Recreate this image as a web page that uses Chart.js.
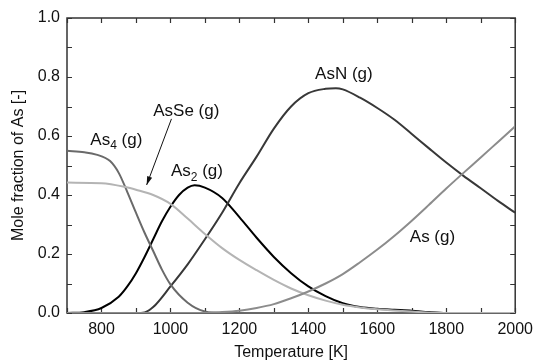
<!DOCTYPE html>
<html>
<head>
<meta charset="utf-8">
<script src="https://cdn.jsdelivr.net/npm/chart.js@4"></script>
<style>
  html, body { margin: 0; padding: 0; background: #fff; }
  #wrap { width: 540px; height: 361px; }
</style>
</head>
<body>
<div id="wrap"><canvas id="chart" width="540" height="361"></canvas></div>
<script>
// values
const tAs4 = [700, 750, 785, 825, 850, 875, 900, 925, 950, 975, 1000, 1050, 1100, 1150, 2000];
const molAs4 = [0.55, 0.545, 0.537, 0.515, 0.475, 0.41, 0.34, 0.272, 0.21, 0.148, 0.097, 0.035, 0.005, 0, 0];

const tAsSe = [700, 800, 870, 900, 950, 1000, 1050, 1100, 1150, 1200, 1250, 1300, 1350, 1400, 1450, 1500, 1550, 1600, 1700, 1800, 2000];
const molAsSe = [0.442, 0.44, 0.427, 0.418, 0.40, 0.37, 0.32, 0.268, 0.22, 0.18, 0.145, 0.112, 0.083, 0.06, 0.042, 0.028, 0.019, 0.013, 0.005, 0, 0];

const tAs2 = [700, 750, 800, 850, 875, 900, 925, 950, 975, 1000, 1025, 1050, 1070, 1100, 1150, 1200, 1250, 1300, 1350, 1400, 1450, 1500, 1550, 1600, 1650, 1700, 1750, 1800, 2000];
const molAs2 = [0, 0.003, 0.017, 0.055, 0.09, 0.135, 0.19, 0.25, 0.31, 0.36, 0.40, 0.425, 0.433, 0.425, 0.39, 0.325, 0.255, 0.19, 0.135, 0.09, 0.057, 0.033, 0.02, 0.014, 0.011, 0.008, 0.003, 0, 0];

const tAsN = [700, 900, 925, 950, 1000, 1050, 1100, 1150, 1200, 1250, 1300, 1350, 1400, 1450, 1480, 1500, 1550, 1600, 1650, 1700, 1750, 1800, 1850, 1900, 1950, 2000];
const molAsN = [0, 0, 0.002, 0.02, 0.09, 0.165, 0.25, 0.34, 0.44, 0.53, 0.625, 0.70, 0.745, 0.76, 0.762, 0.758, 0.73, 0.695, 0.655, 0.607, 0.558, 0.51, 0.465, 0.423, 0.38, 0.34];

const tAs = [700, 1100, 1150, 1200, 1250, 1300, 1350, 1400, 1450, 1500, 1550, 1600, 1650, 1700, 1750, 1800, 1850, 1900, 1950, 2000];
const molAs = [0, 0, 0.003, 0.008, 0.017, 0.03, 0.05, 0.073, 0.1, 0.132, 0.172, 0.215, 0.262, 0.313, 0.367, 0.422, 0.475, 0.527, 0.58, 0.633];

const xTicks = [800, 1000, 1200, 1400, 1600, 1800, 2000];
const yTicks = [0, 0.2, 0.4, 0.6, 0.8, 1.0];
const xTickMarks = [700, 800, 900, 1000, 1100, 1200, 1300, 1400, 1500, 1600, 1700, 1800, 1900, 2000];
const yTickMarks = [0, 0.1, 0.2, 0.3, 0.4, 0.5, 0.6, 0.7, 0.8, 0.9, 1.0];

// curve labels, placed in data units
const labels = [
  { base: "AsN", sub: "", rest: " (g)", x: 1503, y: 0.81 },
  { base: "As", sub: "4", rest: " (g)", x: 843, y: 0.586 },
  { base: "AsSe", sub: "", rest: " (g)", x: 1046, y: 0.685 },
  { base: "As", sub: "2", rest: " (g)", x: 1077, y: 0.48 },
  { base: "As", sub: "", rest: " (g)", x: 1760, y: 0.258 }
];
const arrowFrom = { x: 1003, y: 0.658 };
const arrowTo = { x: 931, y: 0.434 };

const FONT = "'Liberation Sans', Arial, sans-serif";
const pts = (ts, vs) => ts.map((t, i) => ({ x: t, y: vs[i] }));

const line = (label, data, color) => ({
  label,
  data,
  borderColor: color,
  borderWidth: 2,
  pointRadius: 0,
  fill: false,
  cubicInterpolationMode: "monotone"
});

const framePlugin = {
  id: "frame",
  beforeDatasetsDraw(chart) {
    const { ctx, chartArea: a, scales } = chart;
    const len = 5;
    ctx.save();
    ctx.strokeStyle = "#333";
    ctx.lineWidth = 1.5;
    ctx.strokeRect(a.left, a.top, a.right - a.left, a.bottom - a.top);
    ctx.lineWidth = 1.2;
    ctx.beginPath();
    xTickMarks.forEach(v => {
      const px = Math.round(scales.x.getPixelForValue(v)) + 0.5;
      ctx.moveTo(px, a.bottom); ctx.lineTo(px, a.bottom - len);
      ctx.moveTo(px, a.top); ctx.lineTo(px, a.top + len);
    });
    yTickMarks.forEach(v => {
      const py = Math.round(scales.y.getPixelForValue(v)) + 0.5;
      ctx.moveTo(a.left, py); ctx.lineTo(a.left + len, py);
      ctx.moveTo(a.right, py); ctx.lineTo(a.right - len, py);
    });
    ctx.stroke();
    ctx.restore();
  },
  afterDatasetsDraw(chart) {
    const { ctx, scales } = chart;
    ctx.save();
    ctx.fillStyle = "#111";
    ctx.textBaseline = "middle";
    labels.forEach(l => {
      const big = "17px " + FONT, small = "12px " + FONT;
      ctx.font = big;
      const w1 = ctx.measureText(l.base).width;
      const w3 = ctx.measureText(l.rest).width;
      ctx.font = small;
      const w2 = l.sub ? ctx.measureText(l.sub).width : 0;
      const cx = scales.x.getPixelForValue(l.x);
      const cy = scales.y.getPixelForValue(l.y);
      let x = cx - (w1 + w2 + w3) / 2;
      ctx.textAlign = "left";
      ctx.font = big;
      ctx.fillText(l.base, x, cy);
      x += w1;
      if (l.sub) {
        ctx.font = small;
        ctx.fillText(l.sub, x, cy + 6);
        x += w2;
      }
      ctx.font = big;
      ctx.fillText(l.rest, x, cy);
    });
    // arrow from the AsSe label
    const x1 = scales.x.getPixelForValue(arrowFrom.x), y1 = scales.y.getPixelForValue(arrowFrom.y);
    const x2 = scales.x.getPixelForValue(arrowTo.x), y2 = scales.y.getPixelForValue(arrowTo.y);
    const ang = Math.atan2(y2 - y1, x2 - x1);
    ctx.strokeStyle = "#111";
    ctx.fillStyle = "#111";
    ctx.lineWidth = 1;
    ctx.beginPath();
    ctx.moveTo(x1, y1);
    ctx.lineTo(x2, y2);
    ctx.stroke();
    ctx.beginPath();
    ctx.moveTo(x2, y2);
    ctx.lineTo(x2 - 9 * Math.cos(ang - 0.3), y2 - 9 * Math.sin(ang - 0.3));
    ctx.lineTo(x2 - 9 * Math.cos(ang + 0.3), y2 - 9 * Math.sin(ang + 0.3));
    ctx.closePath();
    ctx.fill();
    ctx.restore();
  }
};

const chartInstance = new Chart(document.getElementById("chart"), {
  type: "line",
  data: {
    datasets: [
      line("As (g)", pts(tAs, molAs), "#8c8c8c"),
      line("AsSe (g)", pts(tAsSe, molAsSe), "#b4b4b4"),
      line("As4 (g)", pts(tAs4, molAs4), "#6a6a6a"),
      line("AsN (g)", pts(tAsN, molAsN), "#383838"),
      line("As2 (g)", pts(tAs2, molAs2), "#000000")
    ]
  },
  options: {
    responsive: false,
    animation: false,
    layout: { padding: { left: 0, top: 18, right: 18, bottom: 0 } },
    plugins: { legend: { display: false }, tooltip: { enabled: false } },
    scales: {
      x: {
        type: "linear",
        min: 700,
        max: 2000,
        grid: { display: false, drawTicks: false },
        border: { display: false },
        afterBuildTicks: s => { s.ticks = xTicks.map(v => ({ value: v })); },
        afterFit: s => { s.height = 48; },
        ticks: { padding: 7, color: "#111", font: { family: FONT, size: 16 }, maxRotation: 0, callback: v => String(v) },
        title: { display: true, text: "Temperature [K]", color: "#111", padding: { top: 0, bottom: 0 }, font: { family: FONT, size: 16, lineHeight: 1 } }
      },
      y: {
        min: 0,
        max: 1,
        grid: { display: false, drawTicks: false },
        border: { display: false },
        afterBuildTicks: s => { s.ticks = yTicks.map(v => ({ value: v })); },
        afterFit: s => { s.width = 67; },
        ticks: { padding: 7, color: "#111", font: { family: FONT, size: 16 }, callback: v => v.toFixed(1) },
        title: { display: true, text: "Mole fraction of As [-]", color: "#111", padding: { top: 11, bottom: 0 }, font: { family: FONT, size: 16, lineHeight: 1 } }
      }
    }
  },
  plugins: [framePlugin]
});
</script>
</body>
</html>
